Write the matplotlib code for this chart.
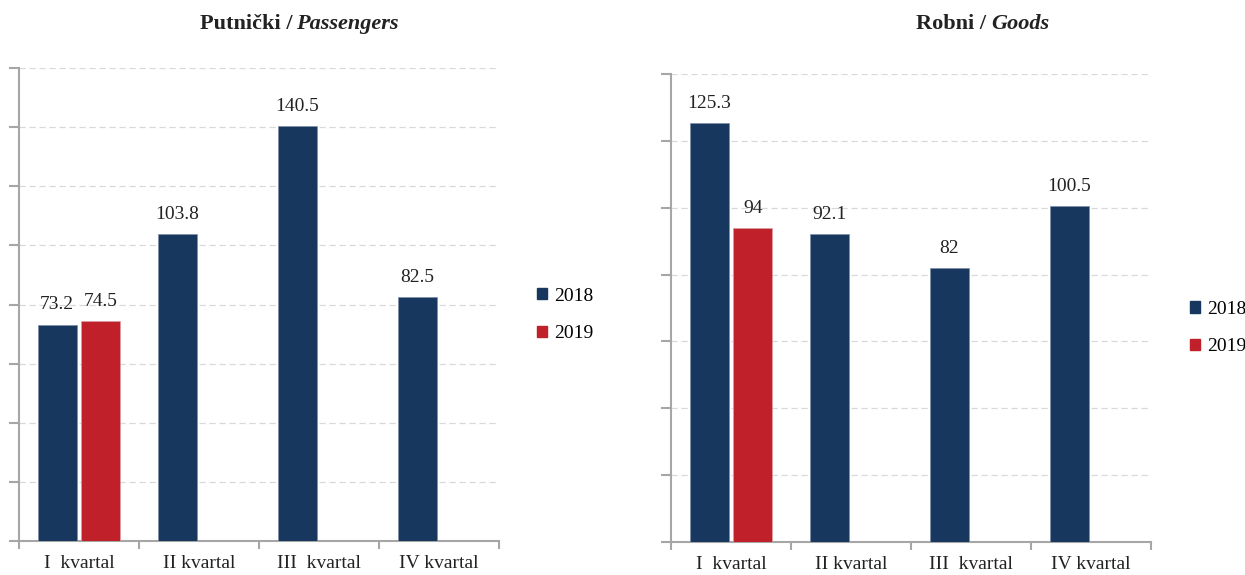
import matplotlib.pyplot as plt
import matplotlib.patches as mpatches
import numpy as np

plt.rcParams['font.family'] = ['Liberation Serif', 'DejaVu Serif']

# Data
categories = ['I  kvartal', 'II kvartal', 'III  kvartal', 'IV kvartal']
years = ['2018', '2019']
passengers_2018 = [73.2, 103.8, 140.5, 82.5]
passengers_2019 = [74.5, np.nan, np.nan, np.nan]
goods_2018 = [125.3, 92.1, 82, 100.5]
goods_2019 = [94, np.nan, np.nan, np.nan]

navy = '#17375E'
red = '#C0202A'
spine_col = '#A6A6A6'
grid_col = '#D9D9D9'
fs = 14

fig = plt.figure(figsize=(12.45, 5.75), dpi=100)
ax1 = fig.add_axes([19 / 1245, 34 / 575, 480 / 1245, 473 / 575])
ax2 = fig.add_axes([671 / 1245, 33 / 575, 480 / 1245, 468 / 575])


def fmt(v):
    return f'{v:g}'


def draw(ax, v18, v19, ymax, leg_anchor):
    x = np.arange(len(categories))
    w = 0.325
    off = 0.181
    b1 = ax.bar(x - off, v18, w, color=navy, edgecolor='#7F8EA8', linewidth=0.5, zorder=3)
    b2 = ax.bar(x + off, v19, w, color=red, edgecolor='#D9A0A4', linewidth=0.5, zorder=3)
    for bars, vals in ((b1, v18), (b2, v19)):
        for rect, v in zip(bars, vals):
            if np.isnan(v):
                continue
            ax.annotate(fmt(v), (rect.get_x() + rect.get_width() / 2, v),
                        xytext=(0, 8), textcoords='offset points',
                        ha='center', va='bottom', fontsize=fs, color='#222222')

    ax.set_xlim(-0.5, len(categories) - 0.5)
    ax.set_ylim(0, ymax)
    ax.set_yticks(np.arange(0, ymax + 1, 20))
    ax.set_yticklabels([])
    ax.tick_params(axis='y', length=7, width=1.5, color=spine_col, direction='out')
    ax.set_xticks(x)
    ax.set_xticklabels(categories, fontsize=fs, color='#222222')
    ax.tick_params(axis='x', which='major', length=0, pad=10)
    ax.set_xticks(np.arange(-0.5, len(categories), 1), minor=True)
    ax.tick_params(axis='x', which='minor', length=6, width=1.5, color=spine_col, direction='out')

    for s in ('top', 'right'):
        ax.spines[s].set_visible(False)
    for s in ('left', 'bottom'):
        ax.spines[s].set_color(spine_col)
        ax.spines[s].set_linewidth(1.5)

    ax.yaxis.grid(True, linestyle=(0, (5, 3)), color=grid_col, linewidth=0.9, zorder=0)
    ax.set_axisbelow(True)

    handles = [mpatches.Patch(color=navy), mpatches.Patch(color=red)]
    ax.legend(handles, years, loc='center left', bbox_to_anchor=leg_anchor,
              frameon=False, fontsize=fs, handlelength=0.5, handleheight=0.5,
              handletextpad=0.4, labelspacing=1.05, borderpad=0, borderaxespad=0)


draw(ax1, passengers_2018, passengers_2019, 160, (1.079, 0.478))
draw(ax2, goods_2018, goods_2019, 140, (1.081, 0.457))

# Titles (bold + bold italic)
tfs = 16
fig.text(292 / 1245, 1 - 29 / 575, 'Putnički /', ha='right', va='baseline',
         fontsize=tfs, fontweight='bold', color='#222222')
fig.text(296 / 1245, 1 - 29 / 575, 'Passengers', ha='left', va='baseline',
         fontsize=tfs, fontweight='bold', fontstyle='italic', color='#222222')
fig.text(986 / 1245, 1 - 29 / 575, 'Robni /', ha='right', va='baseline',
         fontsize=tfs, fontweight='bold', color='#222222')
fig.text(991 / 1245, 1 - 29 / 575, 'Goods', ha='left', va='baseline',
         fontsize=tfs, fontweight='bold', fontstyle='italic', color='#222222')

fig.savefig('out.png', dpi=100)
